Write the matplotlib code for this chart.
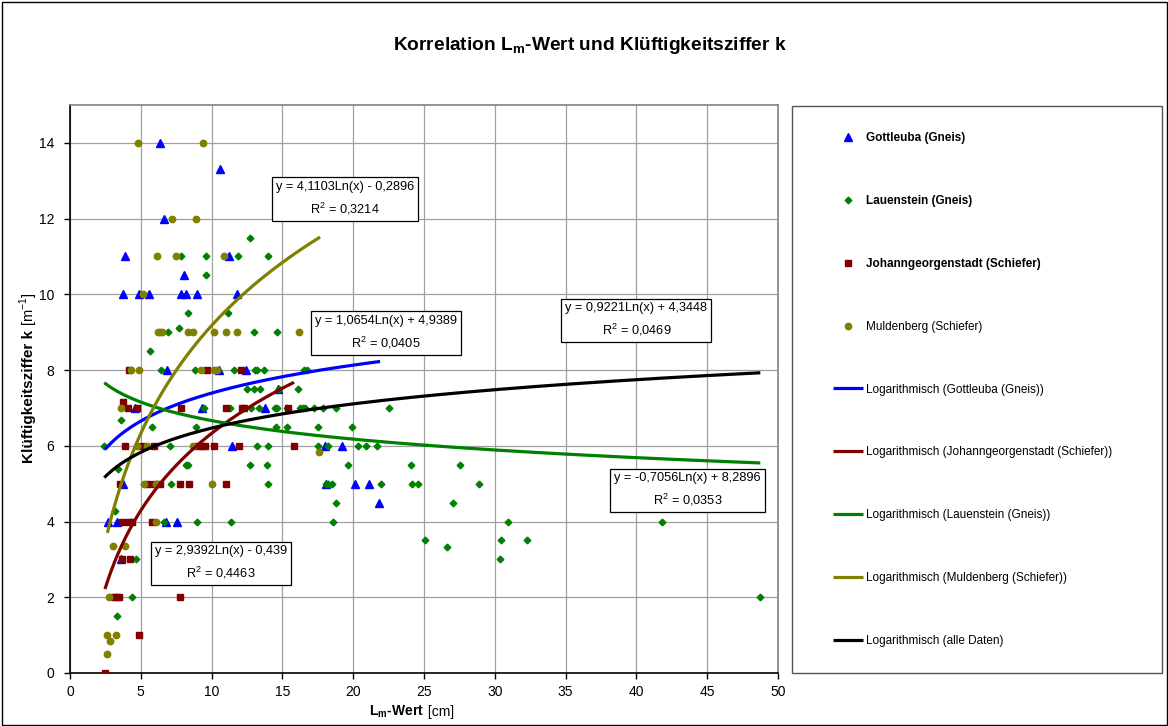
import numpy as np
import matplotlib
matplotlib.use("Agg")
import matplotlib.pyplot as plt
from matplotlib.patches import Rectangle

plt.rcParams['font.family'] = ['Liberation Sans', 'DejaVu Sans']

# ---------------- data ----------------
gott_x = [6.36, 10.62, 6.66, 3.88, 11.25, 8.07,
          3.77, 4.87, 5.55, 7.86, 8.17, 8.94, 11.77,
          6.85, 10.52, 12.40,
          4.60, 9.35, 13.75, 14.68,
          11.46, 18.00, 19.20,
          3.77, 18.05, 20.10, 21.12, 21.85,
          2.71, 3.32, 6.78, 7.53, 3.60]
gott_y = [14, 13.3, 12, 11, 11, 10.5,
          10, 10, 10, 10, 10, 10, 10,
          8, 8, 8,
          7, 7, 7, 7.5,
          6, 6, 6,
          5, 5, 5, 5, 4.5,
          4, 4, 4, 4, 3]

laue_x = [7.84, 9.58, 11.89, 13.96, 12.68, 9.60, 8.36, 11.18, 7.72,
          6.94, 12.99, 14.62, 5.64,
          6.40, 8.80, 11.60, 13.10, 13.22, 13.70, 16.55, 16.75,
          12.53, 13.00, 13.45, 14.78, 16.10,
          9.46, 11.30, 12.75, 13.35, 14.50, 14.64, 15.30, 16.24, 16.45, 16.63, 17.20, 17.90, 18.76, 22.50,
          3.58, 5.82, 8.92, 14.55, 15.35, 17.54, 19.90,
          2.42, 7.08, 13.18, 14.00, 17.54, 18.20, 20.36, 20.88, 21.66,
          8.18, 8.30, 3.41, 12.71, 13.89, 19.61, 24.07, 27.57,
          7.15, 13.95, 18.10, 18.25, 18.48, 21.95, 24.13, 24.60, 28.90,
          18.78, 27.04, 3.20,
          6.64, 8.94, 11.40, 18.60, 30.96, 41.79,
          25.07, 30.45, 32.30, 26.60, 30.40, 4.64,
          4.38, 3.34, 48.75]
laue_y = [11, 11, 11, 11, 11.5, 10.5, 9.5, 9.5, 9.1,
          9, 9, 9, 8.5,
          8, 8, 8, 8, 8, 8, 8, 8,
          7.5, 7.5, 7.5, 7.5, 7.5,
          7, 7, 7, 7, 7, 7, 7, 7, 7, 7, 7, 7, 7, 7,
          6.67, 6.5, 6.5, 6.5, 6.5, 6.5, 6.5,
          6, 6, 6, 6, 6, 6, 6, 6, 6,
          5.5, 5.5, 5.38, 5.5, 5.5, 5.5, 5.5, 5.5,
          5, 5, 5, 5, 5, 5, 5, 5, 5,
          4.5, 4.5, 4.28,
          4, 4, 4, 4, 4, 4,
          3.5, 3.5, 3.5, 3.33, 3, 3,
          2, 1.5, 2]

jg_x = [4.17, 9.65, 12.05, 3.74,
        4.07, 4.76, 7.81, 11.00, 12.15, 12.30, 15.42,
        3.88, 5.11, 5.92, 9.06, 9.30, 9.55, 10.17, 11.96, 15.82,
        3.56, 5.48, 6.00, 6.38, 7.77, 8.40, 11.02,
        3.65, 4.17, 4.36, 5.81,
        3.65, 4.26,
        3.13, 3.34, 3.48, 7.75,
        4.87, 2.47]
jg_y = [8, 8, 8, 7.15,
        7, 7, 7, 7, 7, 7, 7,
        6, 6, 6, 6, 6, 6, 6, 6, 6,
        5, 5, 5, 5, 5, 5, 5,
        4, 4, 4, 4,
        3, 3,
        2, 2, 2, 2,
        1, 0]

mb_x = [4.83, 9.42, 7.20, 8.87, 6.14, 7.50, 10.85, 5.13,
        6.24, 6.36, 6.52, 8.31, 8.67, 10.15, 11.00, 11.82, 16.17,
        4.31, 4.87, 9.23, 10.20, 10.40,
        3.58, 4.71, 5.46, 8.71, 17.60,
        5.23, 6.05, 10.00, 6.05,
        3.04, 3.91, 2.75, 2.64, 3.27, 2.85, 2.64]
mb_y = [14, 14, 12, 12, 11, 11, 11, 10,
        9, 9, 9, 9, 9, 9, 9, 9, 9,
        8, 8, 8, 8, 8,
        7, 6, 6, 6, 5.84,
        5, 5, 5, 4,
        3.35, 3.35, 2, 1, 1, 0.85, 0.5]

# logarithmic trendlines: y = a*ln(x) + b, over the x-range of each series
trend_names = ["Gottleuba (Gneis)", "Johanngeorgenstadt (Schiefer)", "Lauenstein (Gneis)",
               "Muldenberg (Schiefer)", "alle Daten"]
trend_a = [1.0654, 2.9392, -0.7056, 4.1103, 0.9221]
trend_b = [4.9389, -0.439, 8.2896, -0.2896, 4.3448]
trend_xmin = [2.47, 2.47, 2.42, 2.64, 2.42]
trend_xmax = [21.9, 15.82, 48.75, 17.66, 48.75]
trend_r2 = ["0,0405", "0,4463", "0,0353", "0,3214", "0,0469"]
trend_eq = ["y = 1,0654Ln(x) + 4,9389", "y = 2,9392Ln(x) - 0,439",
            "y = -0,7056Ln(x) + 8,2896", "y = 4,1103Ln(x) - 0,2896",
            "y = 0,9221Ln(x) + 4,3448"]
trend_colors = ["#0000FF", "#800000", "#008000", "#808000", "#000000"]
# label box centres (data coords)
label_x = [22.3, 10.66, 43.6, 19.42, 40.0]
label_y = [8.98, 2.90, 4.83, 12.52, 9.32]

# ---------------- figure ----------------
W, H = 1168, 726
fig = plt.figure(figsize=(W / 100, H / 100), dpi=100)
fig.patch.set_facecolor("white")

def fx(px):
    return px / W

def fy(py):
    return 1 - py / H

# outer chart border
fig.patches.append(Rectangle((fx(1.5), fy(724.5)), fx(1165), 723 / H, transform=fig.transFigure,
                             fill=False, ec="black", lw=1.0))

L, R, T, B = 70, 778, 105, 673
ax = fig.add_axes([fx(L), fy(B), fx(R - L), (B - T) / H])
ax.set_xlim(0, 50)
ax.set_ylim(0, 15)
ax.set_xticks(np.arange(0, 51, 5))
ax.set_yticks(np.arange(0, 15, 2))
ax.grid(True, color="#a0a0a0", lw=0.9)
ax.set_axisbelow(True)
for s in ["top", "right"]:
    ax.spines[s].set_color("#808080")
    ax.spines[s].set_linewidth(1.2)
for s in ["left", "bottom"]:
    ax.spines[s].set_color("black")
    ax.spines[s].set_linewidth(1.2)
ax.tick_params(direction="out", length=4.5, width=1, labelsize=10)
ax.tick_params(axis="y", pad=7)
ax.tick_params(axis="x", pad=4.5)

h_g, = ax.plot(gott_x, gott_y, ls="none", marker="^", ms=5.4, color="#0000FF", mec="#0000FF", zorder=3)
h_l, = ax.plot(laue_x, laue_y, ls="none", marker="D", ms=3.4, color="#008000", mec="#008000", zorder=3)
h_j, = ax.plot(jg_x, jg_y, ls="none", marker="s", ms=4.4, color="#800000", mec="#800000", zorder=3)
h_m, = ax.plot(mb_x, mb_y, ls="none", marker="o", ms=4.6, color="#808000", mec="#808000", zorder=3)

trend_handles = []
for a, b, x0, x1, c in zip(trend_a, trend_b, trend_xmin, trend_xmax, trend_colors):
    xs = np.linspace(x0, x1, 300)
    h, = ax.plot(xs, a * np.log(xs) + b, color=c, lw=2.3, zorder=4, solid_capstyle="butt")
    trend_handles.append(h)

for eq, r2, lx, ly in zip(trend_eq, trend_r2, label_x, label_y):
    ax.text(lx, ly, eq + "\nR$^\\mathregular{2}$ = " + r2, ha="center", va="center",
            multialignment="center", fontsize=9.2, linespacing=1.6, zorder=6,
            bbox=dict(boxstyle="square,pad=0.32", fc="white", ec="black", lw=0.9))

# title and axis labels
fig.text(fx(590), fy(45), "Korrelation L$_\\mathregular{m}$-Wert und Klüftigkeitsziffer k",
         ha="center", va="center", fontsize=13.8, fontweight="bold")
fig.text(fx(424), fy(712), "L$_\\mathregular{m}$-Wert", ha="right", va="center",
         fontsize=10, fontweight="bold")
fig.text(fx(424), fy(712), " [cm]", ha="left", va="center", fontsize=10)
fig.text(fx(29), fy(330), "Klüftigkeitsziffer k", ha="center", va="top", rotation=90,
         fontsize=11, fontweight="bold")
fig.text(fx(29), fy(330), " [m$^\\mathregular{-1}$]", ha="center", va="bottom", rotation=90,
         fontsize=10.5)

# legend
fig.patches.append(Rectangle((fx(792), fy(673)), fx(1162 - 792), (673 - 106) / H,
                             transform=fig.transFigure, fill=False, ec="#555555", lw=1.0))
handles = [h_g, h_l, h_j, h_m] + [trend_handles[i] for i in (0, 1, 2, 3, 4)]
labels = ["Gottleuba (Gneis)", "Lauenstein (Gneis)", "Johanngeorgenstadt (Schiefer)",
          "Muldenberg (Schiefer)"] + ["Logarithmisch (%s)" % trend_names[i] for i in (0, 1, 2, 3, 4)]
leg = fig.legend(handles, labels, loc="upper left", bbox_to_anchor=(fx(833), fy(132)),
                 frameon=False, fontsize=8.5, handlelength=2.55, handletextpad=0.25,
                 labelspacing=4.31, borderpad=0, borderaxespad=0, numpoints=1)
for t in leg.get_texts()[:3]:
    t.set_fontweight("bold")

fig.savefig("out.png", dpi=100)
